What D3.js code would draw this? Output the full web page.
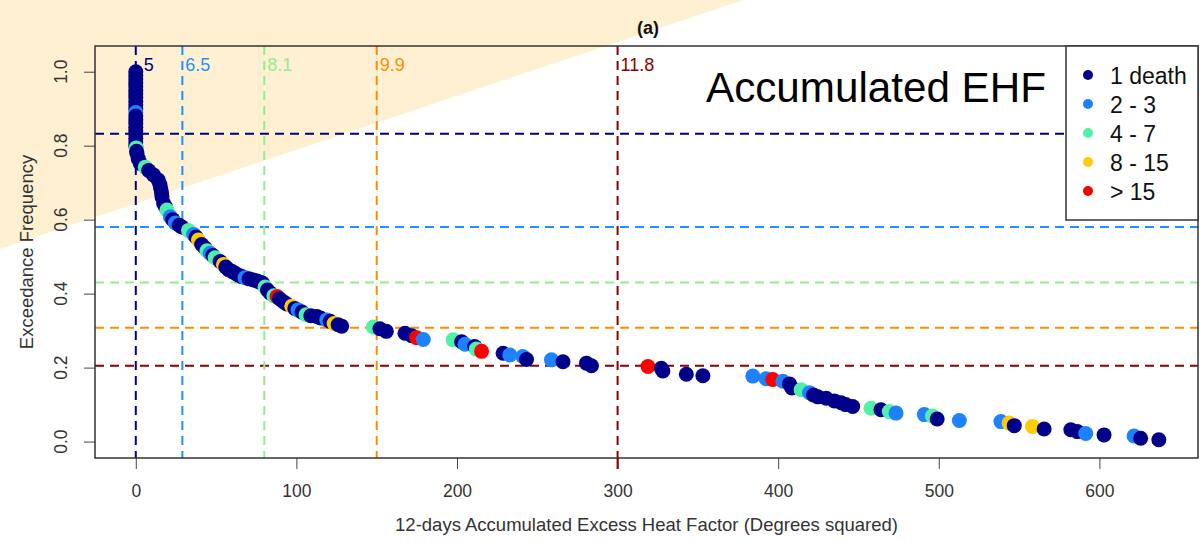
<!DOCTYPE html>
<html>
<head>
<meta charset="utf-8">
<script src="https://cdn.jsdelivr.net/npm/d3@7"></script>
<style>
  body { margin: 0; background: #fff; }
  text { font-family: "Liberation Sans", Arial, sans-serif; }
</style>
</head>
<body>
<svg id="chart" width="1203" height="541"></svg>
<script>
// EHF accumulated (x), exceedance frequency (y), death class index
var ehf = [
  0, 0, 0, 0, 0, 0, 0, 0, 0, 0, 0, 0, 0, 0, 0, 0, 0, 0, 0, 0, 0,
  0.3, 0.5, 0.7, 1.5, 2.8, 5.9, 8, 11, 14, 15, 15.5, 16, 16.3, 17.3, 18.5, 19.4, 21.5, 23, 24.6, 27, 28.7,
  32.8, 36, 37.5, 39, 41, 43, 44.3, 46.3, 48, 49.4, 52.5, 54.6, 56, 57.7, 60, 61.9, 64, 66, 68, 70.5, 73.3,
  75.5, 77.4, 79, 80.5, 82, 83.6, 86, 88, 89.5, 91.9, 94, 97.1, 99, 101, 103.5, 106, 109, 112.7, 115, 118.9,
  121, 123.5, 126, 128.2,
  148, 152, 156, 167.6, 171.8, 174.9, 179, 197.6, 202.9, 205, 211, 212, 215.3, 228.7, 232.9, 241, 243.3,
  258.8, 266, 280.6, 283.7, 318.9, 327.2, 328.2, 342.8, 353.1, 384.2, 392.5, 396.6, 402.9, 407, 408.5, 414.3,
  419.5, 422, 424.7, 429.9, 435, 439.2, 442, 446.4, 457.8, 464, 469.2, 473.4, 491, 496, 499, 512.8,
  538.7, 543.8, 547, 558.3, 565.6, 582.2, 586.3, 591.5, 602.9, 621.6, 625.7, 637
];
var exceed = [
  1.00, 0.99, 0.98, 0.97, 0.96, 0.95, 0.94, 0.93, 0.92, 0.91, 0.90, 0.89, 0.88, 0.87, 0.86, 0.85, 0.84, 0.83, 0.82, 0.81, 0.80,
  0.794, 0.785, 0.779, 0.765, 0.752, 0.742, 0.733, 0.721, 0.707, 0.695, 0.685, 0.673, 0.662, 0.644, 0.635, 0.626, 0.608, 0.600, 0.591, 0.585, 0.580,
  0.571, 0.560, 0.553, 0.545, 0.533, 0.524, 0.516, 0.509, 0.503, 0.497, 0.487, 0.479, 0.472, 0.465, 0.460, 0.455, 0.450, 0.446, 0.443, 0.440, 0.437,
  0.434, 0.431, 0.428, 0.418, 0.410, 0.402, 0.394, 0.392, 0.386, 0.378, 0.372, 0.366, 0.360, 0.356, 0.350, 0.343, 0.340, 0.338, 0.334, 0.329,
  0.325, 0.319, 0.316, 0.312,
  0.310, 0.305, 0.298, 0.293, 0.286, 0.281, 0.276, 0.275, 0.270, 0.263, 0.257, 0.250, 0.244, 0.239, 0.234, 0.230, 0.222,
  0.221, 0.216, 0.212, 0.205, 0.203, 0.198, 0.191, 0.182, 0.178, 0.177, 0.170, 0.168, 0.163, 0.156, 0.145, 0.140,
  0.132, 0.126, 0.121, 0.117, 0.110, 0.105, 0.100, 0.095, 0.090, 0.086, 0.081, 0.077, 0.073, 0.069, 0.061, 0.057,
  0.054, 0.050, 0.043, 0.041, 0.034, 0.032, 0.027, 0.022, 0.018, 0.015, 0.009, 0.005
];
var deathClass = [
  0, 0, 0, 0, 0, 0, 0, 0, 0, 0, 0, 1, 0, 0, 0, 0, 0, 0, 0, 0, 0,
  2, 0, 0, 0, 0, 2, 0, 0, 0, 0, 0, 0, 0, 0, 0, 2, 1, 0, 1, 0, 0,
  2, 1, 0, 3, 0, 0, 2, 1, 0, 2, 0, 3, 0, 0, 0, 0, 0, 0, 1, 0, 0,
  0, 0, 0, 2, 0, 0, 2, 4, 0, 0, 0, 3, 0, 1, 0, 2, 0, 0, 0, 1,
  0, 3, 0, 0,
  2, 0, 0, 0, 0, 4, 1, 2, 0, 1, 0, 2, 4, 0, 1, 1, 0,
  1, 0, 0, 0, 4, 0, 0, 0, 0, 1, 1, 4, 1, 0, 0, 2,
  1, 0, 0, 0, 0, 0, 0, 0, 2, 0, 2, 1, 1, 2, 0, 1,
  1, 3, 0, 3, 0, 0, 0, 1, 0, 1, 0, 0
];

var classLabels = ['1 death', '2 - 3', '4 - 7', '8 - 15', '> 15'];
var classColors = ['#00008B', '#1E82FF', '#50F0A8', '#FFCC00', '#FF0000'];

// threshold lines
var refX = [0, 29, 80, 150, 300];
var refY = [0.832, 0.580, 0.430, 0.308, 0.205];
var refLabels = [' 5', '6.5', '8.1', '9.9', '11.8'];
var refColors = ['#000080', '#1E90FF', '#90EE90', '#FF8C00', '#8B0000'];

var xTicks = [0, 100, 200, 300, 400, 500, 600];
var yTicks = [0, 0.2, 0.4, 0.6, 0.8, 1.0];

var svg = d3.select('#chart');
var L = 95, T = 46, R = 1198, B = 458;

var x = d3.scaleLinear().domain([-25.4, 661.4]).range([L, R]);
var y = d3.scaleLinear().domain([-0.0444, 1.0695]).range([B, T]);

// beige background shape
svg.append('polygon')
    .attr('points', '0,0 743,0 0,249')
    .attr('fill', '#FEF0D0');

// axes
var xAxis = svg.append('g')
    .attr('transform', 'translate(0,' + B + ')')
    .call(d3.axisBottom(x).tickValues(xTicks).tickSize(11).tickPadding(16).tickFormat(d3.format('d')));
xAxis.select('.domain').remove();
xAxis.selectAll('line').attr('stroke', '#444');
xAxis.selectAll('text').attr('font-size', 17.5).attr('fill', '#333')
    .attr('font-family', '"Liberation Sans", Arial, sans-serif');

var yAxis = svg.append('g')
    .attr('transform', 'translate(' + L + ',0)')
    .call(d3.axisLeft(y).tickValues(yTicks).tickSize(11).tickFormat(''));
yAxis.select('.domain').remove();
yAxis.selectAll('line').attr('stroke', '#444');

svg.append('g').selectAll('text')
    .data(yTicks)
    .join('text')
    .attr('transform', function (d) { return 'translate(67,' + y(d) + ') rotate(-90)'; })
    .attr('text-anchor', 'middle')
    .attr('font-size', 17.5)
    .attr('fill', '#333')
    .text(d3.format('.1f'));

// threshold lines
svg.append('g').selectAll('line')
    .data(refY)
    .join('line')
    .attr('x1', L).attr('x2', R)
    .attr('y1', function (d) { return y(d); })
    .attr('y2', function (d) { return y(d); })
    .attr('stroke', function (d, i) { return refColors[i]; })
    .attr('stroke-width', 2)
    .attr('stroke-dasharray', '9,6');

svg.append('g').selectAll('line')
    .data(refX)
    .join('line')
    .attr('x1', function (d) { return x(d); })
    .attr('x2', function (d) { return x(d); })
    .attr('y1', T).attr('y2', B)
    .attr('stroke', function (d, i) { return refColors[i]; })
    .attr('stroke-width', 2)
    .attr('stroke-dasharray', '9,6');

svg.append('line')
    .attr('x1', x(300)).attr('x2', x(300))
    .attr('y1', B).attr('y2', B + 11)
    .attr('stroke', '#8B0000').attr('stroke-width', 2);

svg.append('g').selectAll('text')
    .data(refX)
    .join('text')
    .attr('x', function (d) { return x(d) + 3; })
    .attr('y', 71)
    .attr('font-size', 18)
    .attr('fill', function (d, i) { return refColors[i]; })
    .style('white-space', 'pre')
    .text(function (d, i) { return refLabels[i]; });

// points
var pts = ehf.map(function (d, i) { return { x: d, y: exceed[i], c: deathClass[i] }; });
svg.append('g').selectAll('circle')
    .data(pts)
    .join('circle')
    .attr('cx', function (d) { return x(d.x); })
    .attr('cy', function (d) { return y(d.y); })
    .attr('r', 7.5)
    .attr('fill', function (d) { return classColors[d.c]; });

// plot box
svg.append('rect')
    .attr('x', L).attr('y', T)
    .attr('width', R - L).attr('height', B - T)
    .attr('fill', 'none')
    .attr('stroke', '#333')
    .attr('stroke-width', 1.5);

// legend
var lg = svg.append('g');
lg.append('rect')
    .attr('x', 1066).attr('y', T)
    .attr('width', R - 1066).attr('height', 174)
    .attr('fill', '#fff')
    .attr('stroke', '#333')
    .attr('stroke-width', 1.5);
lg.selectAll('circle')
    .data(classLabels)
    .join('circle')
    .attr('cx', 1088)
    .attr('cy', function (d, i) { return 75 + i * 29; })
    .attr('r', 5)
    .attr('fill', function (d, i) { return classColors[i]; });
lg.selectAll('text')
    .data(classLabels)
    .join('text')
    .attr('x', 1110)
    .attr('y', function (d, i) { return 84 + i * 29; })
    .attr('font-size', 23)
    .attr('fill', '#111')
    .text(function (d) { return d; });

// titles
svg.append('text')
    .attr('x', 648).attr('y', 34)
    .attr('text-anchor', 'middle')
    .attr('font-size', 18)
    .attr('font-weight', 'bold')
    .attr('fill', '#111')
    .text('(a)');

svg.append('text')
    .attr('x', 706).attr('y', 102)
    .attr('font-family', 'Lato, "Open Sans", sans-serif')
    .attr('font-size', 43)
    .attr('textLength', 340)
    .attr('lengthAdjust', 'spacingAndGlyphs')
    .attr('fill', '#000')
    .text('Accumulated EHF');

svg.append('text')
    .attr('x', (L + R) / 2).attr('y', 531)
    .attr('text-anchor', 'middle')
    .attr('font-size', 18.5)
    .attr('fill', '#333')
    .text('12-days Accumulated Excess Heat Factor (Degrees squared)');

svg.append('text')
    .attr('transform', 'translate(33,' + (T + B) / 2 + ') rotate(-90)')
    .attr('text-anchor', 'middle')
    .attr('font-size', 18.5)
    .attr('fill', '#333')
    .text('Exceedance Frequency');
</script>
</body>
</html>
